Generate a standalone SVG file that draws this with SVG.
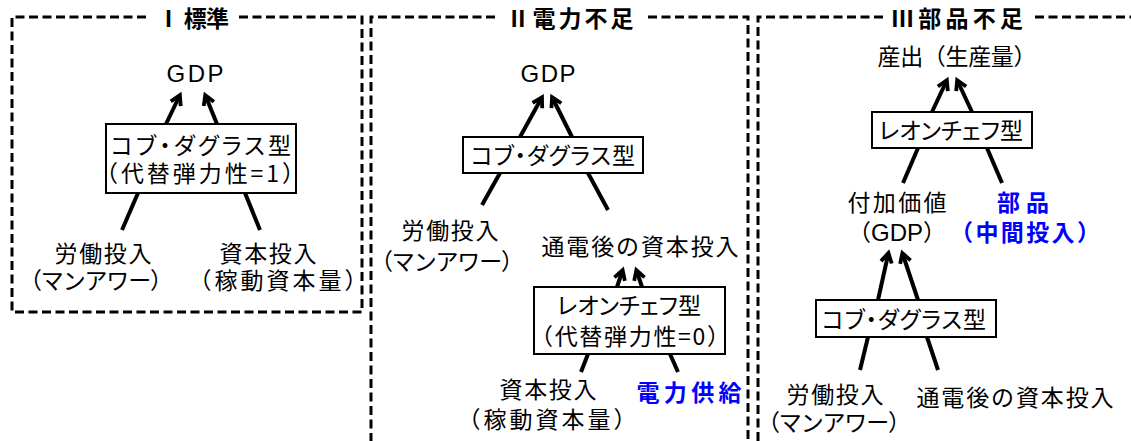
<svg xmlns="http://www.w3.org/2000/svg" width="1131" height="441" viewBox="0 0 1131 441">
<style>
text{font-family:"Noto Sans CJK JP","Liberation Sans",sans-serif;font-size:23px;fill:#000;text-anchor:middle}
.t{font-weight:bold}
.b{font-weight:bold;fill:#0000ff}
.p{font-feature-settings:"palt"}
.g{font-family:"Liberation Sans","Noto Sans CJK JP",sans-serif;font-size:24px}
.frame{fill:none;stroke:#000;stroke-width:3;stroke-dasharray:9 4.5}
.box{fill:#fff;stroke:#000;stroke-width:2}
.ln{stroke:#000;stroke-width:4;fill:none}
.ar{stroke:#000;stroke-width:4;fill:none;marker-end:url(#ah)}
</style>
<defs>
<marker id="ah" viewBox="0 0 14 14" refX="10" refY="7" markerWidth="14" markerHeight="14" markerUnits="userSpaceOnUse" orient="auto" overflow="visible">
<path d="M2.5,1.5 L12,7 L2.5,12.5" fill="none" stroke="#000" stroke-width="3.8" stroke-linejoin="miter"/>
</marker>
</defs>
<rect width="1131" height="441" fill="#fff"/>
<g id="frames">
<path class="frame" d="M146,17 L12,17 L12,312 L362,312 L362,17 L238,17"/>
<path class="frame" d="M495,17 L371,17 L371,446"/>
<path class="frame" d="M648,17 L748,17 L748,446"/>
<path class="frame" d="M883,17 L758,17 L758,446"/>
<path class="frame" d="M1035,17 L1136,17"/>
</g>
<g id="titles">
<text class="t" x="193" y="27" textLength="72">Ⅰ 標準</text>
<text class="t" x="570" y="27" textLength="127">Ⅱ電力不足</text>
<text class="t" x="957" y="27" textLength="132">Ⅲ部品不足</text>
</g>
<g id="connectors">
<line class="ar" x1="166" y1="124" x2="179" y2="97"/>
<line class="ar" x1="217" y1="124" x2="206" y2="97"/>
<line class="ln" x1="122" y1="230" x2="138" y2="193"/>
<line class="ln" x1="260" y1="230" x2="245" y2="193"/>
<line class="ar" x1="520" y1="137" x2="541" y2="99"/>
<line class="ar" x1="572" y1="137" x2="553" y2="99"/>
<line class="ln" x1="500" y1="173" x2="482" y2="205"/>
<line class="ln" x1="588" y1="173" x2="608" y2="210"/>
<line class="ar" x1="617" y1="287" x2="622" y2="272"/>
<line class="ar" x1="642" y1="287" x2="637" y2="272"/>
<line class="ln" x1="588" y1="354" x2="581" y2="372"/>
<line class="ln" x1="670" y1="354" x2="678" y2="372"/>
<line class="ar" x1="932" y1="112" x2="946" y2="82"/>
<line class="ar" x1="972" y1="112" x2="958" y2="82"/>
<line class="ln" x1="918" y1="148" x2="903" y2="183"/>
<line class="ln" x1="987" y1="148" x2="1002" y2="183"/>
<line class="ar" x1="878" y1="300" x2="888" y2="255"/>
<line class="ar" x1="918" y1="300" x2="903" y2="255"/>
<line class="ln" x1="868" y1="337" x2="860" y2="370"/>
<line class="ln" x1="927" y1="337" x2="938" y2="370"/>
</g>
<g id="p1-gdp"><text class="g" x="195" y="82" textLength="57">GDP</text></g>
<g id="p1-cobb">
<rect class="box" x="106" y="124" width="190" height="69"/>
<text class="p" x="201" y="154" textLength="180">コブ・ダグラス型</text>
<text x="200" y="182" textLength="210">（代替弾力性=1）</text>
</g>
<g id="p1-labor">
<text x="103" y="262" textLength="97">労働投入</text>
<text x="96" y="289" textLength="154">（マンアワー）</text>
</g>
<g id="p1-capital">
<text x="268" y="262" textLength="97">資本投入</text>
<text x="278" y="289" textLength="179">（稼動資本量）</text>
</g>
<g id="p2-gdp"><text class="g" x="548" y="82" textLength="55">GDP</text></g>
<g id="p2-cobb">
<rect class="box" x="463" y="137" width="180" height="36"/>
<text class="p" x="553" y="164" textLength="164">コブ・ダグラス型</text>
</g>
<g id="p2-labor">
<text x="450" y="239" textLength="97">労働投入</text>
<text x="447" y="270" textLength="154">（マンアワー）</text>
</g>
<g id="p2-effcap"><text x="640" y="255" textLength="197">通電後の資本投入</text></g>
<g id="p2-leontief">
<rect class="box" x="534" y="287" width="191" height="67"/>
<text class="p" x="629" y="314" textLength="144">レオンチェフ型</text>
<text x="630" y="345" textLength="200">（代替弾力性=0）</text>
</g>
<g id="p2-capital">
<text x="548" y="398" textLength="97">資本投入</text>
<text x="547" y="428" textLength="179">（稼動資本量）</text>
</g>
<g id="p2-power"><text class="b" x="689" y="401" textLength="105">電力供給</text></g>
<g id="p3-output"><text x="957" y="65" textLength="159">産出（生産量）</text></g>
<g id="p3-leontief">
<rect class="box" x="872" y="112" width="160" height="36"/>
<text class="p" x="951" y="139" textLength="144">レオンチェフ型</text>
</g>
<g id="p3-va">
<text x="897" y="211" textLength="99">付加価値</text>
<text x="897" y="241" textLength="98">（<tspan class="g" font-size="23">GDP</tspan>）</text>
</g>
<g id="p3-parts">
<text class="b" x="1023" y="211" textLength="52">部品</text>
<text class="b" x="1025" y="241" textLength="150">（中間投入）</text>
</g>
<g id="p3-cobb">
<rect class="box" x="816" y="300" width="180" height="37"/>
<text class="p" x="904" y="328" textLength="164">コブ・ダグラス型</text>
</g>
<g id="p3-labor">
<text x="835" y="403" textLength="97">労働投入</text>
<text x="834" y="431" textLength="154">（マンアワー）</text>
</g>
<g id="p3-effcap"><text x="1015" y="406" textLength="197">通電後の資本投入</text></g>
</svg>
